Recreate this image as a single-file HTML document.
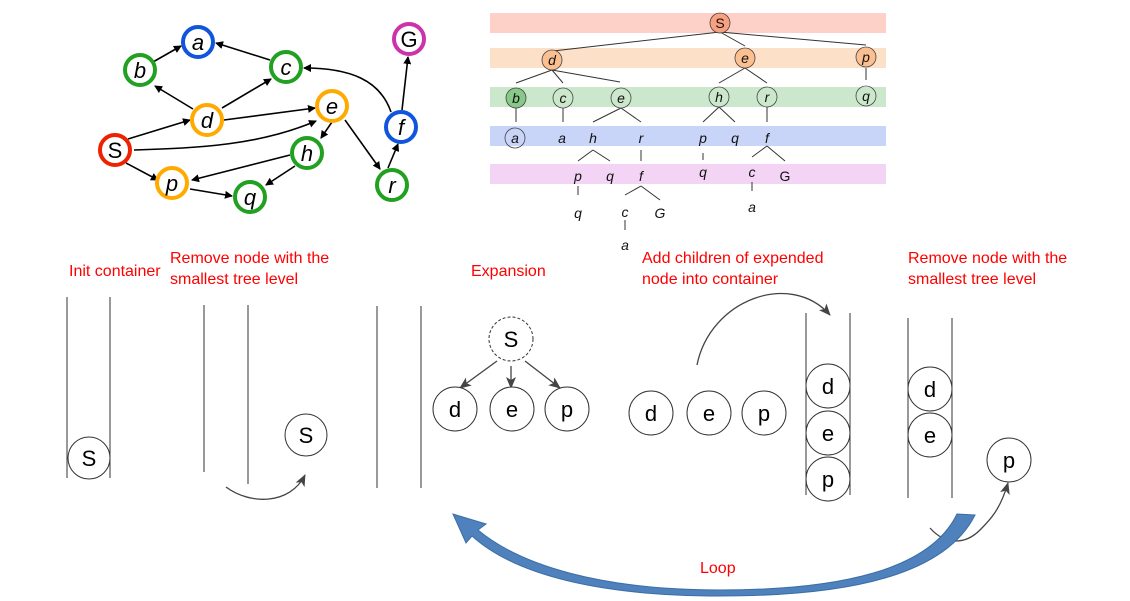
<!DOCTYPE html>
<html><head><style>
body{margin:0;width:1130px;height:601px;background:#fff;overflow:hidden;font-family:"Liberation Sans",sans-serif}
.t{position:absolute;color:#f00;font-size:16px;line-height:21px}
</style></head><body>
<svg width="1130" height="601" style="position:absolute;left:0;top:0" font-family="Liberation Sans">
<defs>
<marker id="ab" markerWidth="8" markerHeight="8" refX="7" refY="4" orient="auto" markerUnits="userSpaceOnUse"><path d="M0,0L8,4L0,8z" fill="#000"/></marker>
<marker id="ag" markerWidth="12" markerHeight="12" refX="11" refY="6" orient="auto" markerUnits="userSpaceOnUse"><path d="M0,1L12,6L0,11L3,6z" fill="#444"/></marker>
</defs>
<g stroke="#000" stroke-width="1.6" fill="none" marker-end="url(#ab)">
<line x1="153" y1="62" x2="181" y2="46"/>
<line x1="270" y1="60" x2="216" y2="43"/>
<line x1="193" y1="109" x2="155" y2="86"/>
<line x1="222" y1="108" x2="271" y2="79"/>
<line x1="224" y1="120" x2="315" y2="108"/>
<line x1="128" y1="139" x2="190" y2="120"/>
<path d="M134,150 C200,148 260,145 316,121"/>
<line x1="126" y1="163" x2="158" y2="180"/>
<line x1="190" y1="189" x2="232" y2="196"/>
<line x1="290" y1="155" x2="192" y2="180"/>
<line x1="295" y1="166" x2="266" y2="185"/>
<line x1="332" y1="122" x2="321" y2="138"/>
<line x1="345" y1="120" x2="380" y2="169"/>
<line x1="388" y1="168" x2="398" y2="144"/>
<line x1="402" y1="110" x2="408" y2="57"/>
<path d="M391,112 C380,80 350,68 304,68"/>
</g>
<g stroke-width="4" fill="#fff" font-style="italic" font-size="22" text-anchor="middle">
<circle cx="198" cy="42" r="15" stroke="#1155dd"/><text x="198" y="50" stroke="none" fill="#000">a</text>
<circle cx="140" cy="70" r="15" stroke="#22a022"/><text x="140" y="78" stroke="none" fill="#000">b</text>
<circle cx="286" cy="67" r="15" stroke="#22a022"/><text x="286" y="75" stroke="none" fill="#000">c</text>
<circle cx="207" cy="120" r="15" stroke="#ffaa00"/><text x="207" y="128" stroke="none" fill="#000">d</text>
<circle cx="332" cy="106" r="15" stroke="#ffaa00"/><text x="332" y="114" stroke="none" fill="#000">e</text>
<circle cx="115" cy="150" r="15" stroke="#ee2200"/><text x="115" y="158" stroke="none" fill="#000" font-style="normal">S</text>
<circle cx="307" cy="153" r="15" stroke="#22a022"/><text x="307" y="161" stroke="none" fill="#000">h</text>
<circle cx="401" cy="127" r="15" stroke="#1155dd"/><text x="401" y="135" stroke="none" fill="#000">f</text>
<circle cx="409" cy="39" r="15" stroke="#cc33aa"/><text x="409" y="47" stroke="none" fill="#000" font-style="normal">G</text>
<circle cx="172" cy="183" r="15" stroke="#ffaa00"/><text x="172" y="191" stroke="none" fill="#000">p</text>
<circle cx="250" cy="197" r="15" stroke="#22a022"/><text x="250" y="205" stroke="none" fill="#000">q</text>
<circle cx="392" cy="185" r="15" stroke="#22a022"/><text x="392" y="193" stroke="none" fill="#000">r</text>
</g>
<rect x="490" y="13" width="396" height="20" fill="#fdd0c8"/>
<rect x="490" y="48" width="396" height="20" fill="#fde0c8"/>
<rect x="490" y="87" width="396" height="20" fill="#cce8cc"/>
<rect x="490" y="126" width="396" height="20" fill="#c8d4f8"/>
<rect x="490" y="164" width="396" height="20" fill="#f4d4f4"/>
<g stroke="#333" stroke-width="1" fill="none">
<path d="M720,32L553,51M720,32L745,46M720,32L866,45"/>
<path d="M552,70L516,83M552,70L563,83M552,70L620,82"/>
<path d="M745,68L719,83M745,68L767,83M866,68L866,80"/>
<path d="M516,108L516,122M563,108L563,122M621,108L593,122M621,108L641,122"/>
<path d="M719,107L703,122M719,107L735,122M767,107L767,122"/>
<path d="M593,150L578,161M593,150L610,161M641,150L641,161M767,146L752,157M767,146L785,161"/>
<path d="M703,153L703,160M578,186L578,195M641,186L625,195M641,186L660,200M752,182L752,191M625,220L625,230"/>
</g>
<g font-size="14" text-anchor="middle" fill="#000" stroke="#444" stroke-width="0.8">
<circle cx="720" cy="23" r="10" fill="#f8a080"/><circle cx="552" cy="60" r="10" fill="#fcc090"/><circle cx="745" cy="58" r="10" fill="#fcc090"/><circle cx="866" cy="57" r="10" fill="#fcc090"/>
<circle cx="516" cy="98" r="10" fill="#88c888"/><circle cx="563" cy="98" r="10" fill="none"/><circle cx="621" cy="98" r="10" fill="none"/><circle cx="719" cy="97" r="10" fill="none"/><circle cx="767" cy="97" r="10" fill="none"/><circle cx="866" cy="96" r="10" fill="none"/><circle cx="515" cy="138" r="10" fill="none"/>
</g>
<g font-style="italic" font-size="14" text-anchor="middle" fill="#111">
<text x="720" y="28" font-style="normal">S</text><text x="552" y="65">d</text><text x="745" y="63">e</text><text x="866" y="62">p</text>
<text x="516" y="103">b</text><text x="563" y="103">c</text><text x="621" y="103">e</text><text x="719" y="102">h</text><text x="767" y="102">r</text><text x="866" y="101">q</text>
<text x="515" y="143">a</text><text x="562" y="143">a</text><text x="593" y="143">h</text><text x="641" y="143">r</text><text x="703" y="143">p</text><text x="735" y="143">q</text><text x="767" y="143">f</text>
<text x="578" y="181">p</text><text x="610" y="181">q</text><text x="641" y="181">f</text><text x="703" y="177">q</text><text x="752" y="177">c</text><text x="785" y="181" font-style="normal">G</text>
<text x="578" y="218">q</text><text x="625" y="217">c</text><text x="660" y="218">G</text><text x="752" y="212">a</text><text x="625" y="250">a</text>
</g>
<g stroke="#333" stroke-width="1" fill="none">
<path d="M67,297V478M110,297V478M204,305V472M248,305V484M377,306V488M421,306V488M806,313V495M850,313V495M908,318V498M952,318V498"/>
</g>
<g stroke="#444" stroke-width="1.3" fill="none" marker-end="url(#ag)">
<path d="M226,487 C250,505 290,505 305,475"/>
<path d="M697,365 C710,300 790,270 830,315"/>
<path d="M930,528 C945,545 965,545 980,530 C990,520 1000,510 1008,483"/>
<path d="M497,361L460,388"/>
<path d="M511,366V388"/>
<path d="M525,361L560,388"/>
</g>
<g fill="#fff" stroke="#333" stroke-width="1" font-size="22" text-anchor="middle">
<circle cx="89" cy="458" r="21"/><circle cx="306" cy="435" r="21"/>
<circle cx="511" cy="339" r="22" stroke-dasharray="3,2"/>
<circle cx="455" cy="409" r="22"/><circle cx="512" cy="409" r="22"/><circle cx="567" cy="409" r="22"/>
<circle cx="651" cy="413" r="22"/><circle cx="709" cy="413" r="22"/><circle cx="764" cy="413" r="22"/>
<circle cx="828" cy="386" r="22"/><circle cx="828" cy="433" r="22"/><circle cx="828" cy="479" r="22"/>
<circle cx="930" cy="389" r="22"/><circle cx="930" cy="435" r="22"/><circle cx="1009" cy="460" r="22"/>
</g>
<g font-size="22" text-anchor="middle" fill="#000">
<text x="89" y="466">S</text><text x="306" y="443">S</text><text x="511" y="347">S</text>
<text x="455" y="417">d</text><text x="512" y="417">e</text><text x="567" y="417">p</text>
<text x="651" y="421">d</text><text x="709" y="421">e</text><text x="764" y="421">p</text>
<text x="828" y="394">d</text><text x="828" y="441">e</text><text x="828" y="487">p</text>
<text x="930" y="397">d</text><text x="930" y="443">e</text><text x="1009" y="468">p</text>
</g>
<path d="M975,515 L957,514 C930,570 840,590 720,590 C600,590 520,565 478,530 L486,524 L453,514 L466,543 L472,536 C515,575 600,596 720,596 C850,596 945,575 975,515 Z" fill="#4f81bd" stroke="#3a6ea5"/>
</svg>
<div class="t" style="left:69px;top:261px">Init container</div>
<div class="t" style="left:170px;top:248px">Remove node with the<br>smallest tree level</div>
<div class="t" style="left:471px;top:261px">Expansion</div>
<div class="t" style="left:642px;top:248px">Add children of expended<br>node into container</div>
<div class="t" style="left:908px;top:248px">Remove node with the<br>smallest tree level</div>
<div class="t" style="left:700px;top:558px">Loop</div>
</body></html>
